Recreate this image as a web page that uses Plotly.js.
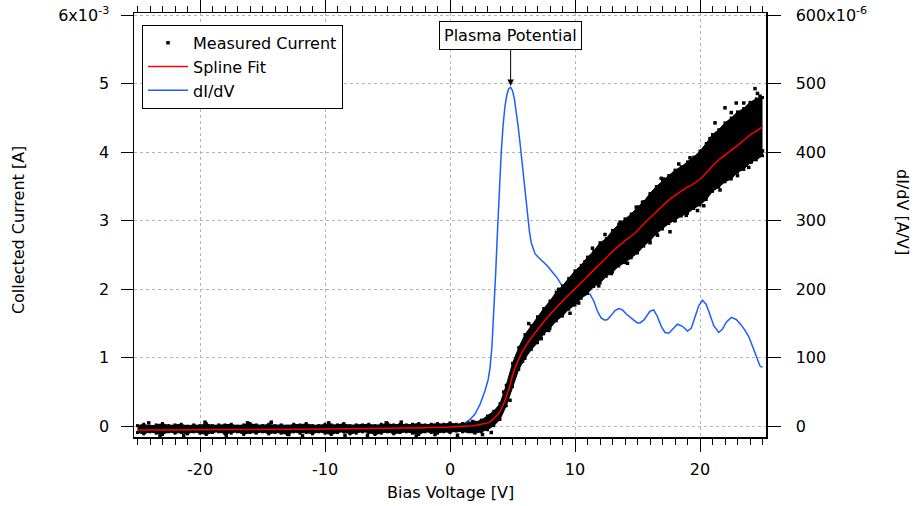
<!DOCTYPE html>
<html>
<head>
<meta charset="utf-8">
<script src="https://cdn.plot.ly/plotly-3.0.1.min.js"></script>
<style>html,body{margin:0;padding:0;background:#fff;}#chart{width:914px;height:506px;}</style>
</head>
<body>
<div id="chart"></div>
<script>
// ---- Measured current band (mA): upper and lower edges of the dense point cloud ----
const measX = [-25,-24.5,-24,-23.5,-23,-22.5,-22,-21.5,-21,-20.5,-20,-19.5,-19,-18.5,-18,-17.5,-17,-16.5,-16,-15.5,-15,-14.5,-14,-13.5,-13,-12.5,-12,-11.5,-11,-10.5,-10,-9.5,-9,-8.5,-8,-7.5,-7,-6.5,-6,-5.5,-5,-4.5,-4,-3.5,-3,-2.5,-2,-1.5,-1,-0.5,0,0.5,1,1.5,
  2,2.5,3,3.5,4,4.5,5,5.5,6,6.5,7,7.5,8,8.5,9,9.5,10,10.5,11,11.5,12,12.5,13,13.5,14,14.5,15,15.5,16,16.5,17,17.5,18,18.5,19,19.5,20,20.5,21,21.5,22,22.5,23,23.5,24,24.5,25];
const measHi = [0.01,0.03,0.0,0.02,0.04,0.01,0.02,0.03,0.0,0.02,0.01,0.04,0.01,0.02,0.02,0.03,0.0,0.02,0.04,0.02,0.01,0.03,0.01,0.02,0.0,0.03,0.02,0.04,0.01,0.01,0.03,0.02,0.02,0.04,0.01,0.02,0.02,0.03,0.01,0.03,0.04,0.02,0.03,0.02,0.03,0.04,0.02,0.03,0.04,0.03,0.05,0.03,0.04,0.05,
  0.06,0.09,0.15,0.22,0.33,0.6,0.92,1.15,1.34,1.47,1.6,1.72,1.83,1.96,2.05,2.16,2.27,2.35,2.47,2.56,2.68,2.74,2.86,2.95,3.03,3.1,3.2,3.28,3.4,3.5,3.58,3.66,3.74,3.79,3.86,3.93,4.02,4.13,4.26,4.33,4.43,4.5,4.59,4.64,4.73,4.78,4.8];
const measLo = [-0.09,-0.11,-0.08,-0.1,-0.12,-0.08,-0.1,-0.09,-0.11,-0.08,-0.1,-0.12,-0.09,-0.08,-0.11,-0.1,-0.08,-0.12,-0.09,-0.1,-0.08,-0.11,-0.09,-0.1,-0.12,-0.08,-0.1,-0.09,-0.11,-0.08,-0.1,-0.12,-0.09,-0.08,-0.11,-0.1,-0.08,-0.09,-0.12,-0.1,-0.08,-0.11,-0.09,-0.08,-0.1,-0.12,-0.08,-0.09,-0.1,-0.08,-0.09,-0.07,-0.08,-0.08,
  -0.1,-0.08,-0.05,0.01,0.1,0.3,0.58,0.83,0.99,1.12,1.22,1.35,1.43,1.54,1.61,1.71,1.77,1.87,1.94,2.04,2.09,2.19,2.25,2.34,2.39,2.46,2.53,2.63,2.71,2.81,2.88,2.96,3.01,3.07,3.11,3.18,3.23,3.31,3.43,3.49,3.57,3.61,3.71,3.75,3.85,3.89,3.95];
// sparse measured points lying outside / on the edge of the dense band (mA)
const outX = [-24.1,-23.2,-21.3,-19.6,-17.9,-16.2,-14.3,-12.9,-11.8,-9.7,-8.4,-6.6,-5.1,-3.9,-2.7,-1.2,0.6,1.8,2.6,3.3,4.3,4.8,5.8,6.3,7.3,7.9,8.7,9.6,10.3,10.8,11.4,11.9,12.4,12.9,13.6,14.2,14.9,15.4,16.0,16.6,16.9,17.1,17.6,18.0,18.3,18.9,19.2,19.8,20.3,20.8,21.2,21.6,22.0,22.5,22.9,23.0,23.5,23.9,24.1,24.4,24.6,24.8,24.9,25.0];
const outY = [0.05,-0.14,-0.13,0.06,-0.13,0.05,0.06,-0.12,-0.14,0.05,-0.13,-0.13,0.05,0.06,-0.14,-0.12,-0.13,0.07,-0.12,-0.09,0.5,0.38,0.95,1.5,1.28,1.4,2.0,1.65,1.8,2.4,2.6,2.05,2.8,2.23,2.98,2.38,3.2,3.27,2.68,2.79,3.62,3.61,2.84,3.0,3.83,3.08,3.92,3.15,3.22,4.2,4.43,3.45,4.65,4.58,4.72,3.66,4.72,3.78,3.86,4.93,4.86,4.82,3.98,4.02];

// ---- Spline fit (mA) ----
const splX = [-25,-20,-15,-10,-5,-2,0,1,2,2.5,3,3.3,3.6,3.9,4.2,4.5,4.8,5.05,5.3,5.6,5.9,6.2,6.5,7.0,7.7,8.5,9.0,10,11,11.7,12.5,13,14,14.66,15.7,16.5,17.3,18,18.7,19.4,20,20.6,21.2,22,22.5,23.2,24,24.5,25];
const splY = [-0.055,-0.05,-0.045,-0.04,-0.03,-0.02,-0.01,0.0,0.01,0.03,0.05,0.08,0.13,0.19,0.29,0.43,0.6,0.77,0.9,1.02,1.13,1.21,1.29,1.41,1.57,1.73,1.83,2.01,2.19,2.32,2.46,2.55,2.71,2.8,2.99,3.13,3.27,3.37,3.46,3.53,3.61,3.72,3.84,3.96,4.03,4.13,4.25,4.31,4.37];

// ---- dI/dV (x1e-6 A/V) ----
const dX = [-25,-20,-15,-10,-5,0,0.8,1.2,1.6,2.0,2.4,2.8,3.05,3.2,3.35,3.5,3.65,3.8,3.95,4.1,4.25,4.4,4.55,4.7,4.85,5.0,5.15,5.3,5.45,5.6,5.75,5.9,6.05,6.2,6.35,6.5,6.65,6.8,7.0,7.4,7.8,8.2,8.6,9.0,9.4,9.8,10.1,10.4,10.7,11.0,11.2,11.5,11.8,12.1,12.4,12.6,12.9,13.2,13.5,13.8,14.1,14.4,14.7,15.0,15.2,15.5,15.8,16.0,16.3,16.6,16.9,17.2,17.5,17.8,18.2,18.6,19.0,19.3,19.6,19.9,20.2,20.5,20.8,21.1,21.5,21.8,22.1,22.5,22.9,23.3,23.6,23.9,24.2,24.5,24.8,25.0];
const dY = [1,1,1,1,1,2,3,5,10,18,32,52,68,85,115,160,222,285,345,400,440,468,484,493,495,490,478,460,438,414,388,362,335,308,285,268,258,252,248,241,234,225,216,204,196,190,186,187,190,193,193,183,168,158,155,156,162,169,172,170,164,159,155,151,151,155,163,168,170,160,146,137,136,142,149,146,139,143,158,176,184,178,163,147,137,142,152,159,156,148,140,131,117,101,88,86];

// tick labels
const xTicks = [-20,-10,0,10,20];
const curTickVals = [0,1,2,3,4,5,6];
const curTickText = ['0','1','2','3','4','5','6x10<sup>-3</sup>'];
const didvTickVals = [0,100,200,300,400,500,600];
const didvTickText = ['0','100','200','300','400','500','600x10<sup>-6</sup>'];

const mA = v => v.map(a => a * 1e-3);
const uA = v => v.map(a => a * 1e-6);

const traces = [
  {x: dX, y: uA(dY), type: 'scatter', mode: 'lines', name: 'dI/dV', xaxis: 'x', yaxis: 'y',
   line: {color: '#1f5cff', width: 1.5}, legendrank: 3},
  {x: measX, y: mA(measLo), type: 'scatter', mode: 'lines+markers', yaxis: 'y2', showlegend: false,
   line: {color: '#000', width: 1}, marker: {symbol: 'square', size: 3, color: '#000'}, hoverinfo: 'skip'},
  {x: measX, y: mA(measHi), type: 'scatter', mode: 'lines+markers', yaxis: 'y2', showlegend: false,
   fill: 'tonexty', fillcolor: '#000',
   line: {color: '#000', width: 1}, marker: {symbol: 'square', size: 3, color: '#000'}, hoverinfo: 'skip'},
  {x: outX, y: mA(outY), type: 'scatter', mode: 'markers', name: 'Measured Current', yaxis: 'y2',
   marker: {symbol: 'square', size: 3.5, color: '#000'}, legendrank: 1},
  {x: splX, y: mA(splY), type: 'scatter', mode: 'lines', name: 'Spline Fit', yaxis: 'y2',
   line: {color: '#ff0000', width: 1.5, shape: 'spline'}, legendrank: 2}
];

const font = {family: 'DejaVu Sans, sans-serif', size: 16, color: '#000'};

const layout = {
  width: 914, height: 506,
  margin: {l: 134, r: 148, t: 13, b: 69},
  paper_bgcolor: '#fff', plot_bgcolor: '#fff',
  font: font,
  showlegend: true,
  legend: {x: 0.0127, y: 0.972, xanchor: 'left', yanchor: 'top', bgcolor: '#fff',
           bordercolor: '#000', borderwidth: 1, font: font, traceorder: 'normal', itemwidth: 40},
  xaxis: {
    range: [-25.28, 25.28], tickmode: 'array', tickvals: xTicks, ticktext: xTicks.map(String),
    ticks: 'outside', ticklen: 13, tickwidth: 1, tickcolor: '#000',
    minor: {dtick: 1, tick0: 0, ticks: 'outside', ticklen: 6, tickwidth: 1, tickcolor: '#000', showgrid: false},
    showline: true, linecolor: '#000', linewidth: 1.5, mirror: 'ticks',
    showgrid: true, gridcolor: '#b4b4b4', griddash: 'dot', gridwidth: 1,
    zeroline: false, ticklabelstandoff: 4, fixedrange: true
  },
  yaxis: {
    range: [-15.6e-6, 603.4e-6], side: 'right', tickmode: 'array',
    tickvals: uA(didvTickVals), ticktext: didvTickText,
    ticks: 'outside', ticklen: 13, tickwidth: 1, tickcolor: '#000',
    showline: true, linecolor: '#000', linewidth: 1.5,
    showgrid: true, gridcolor: '#b4b4b4', griddash: 'dot', gridwidth: 1,
    zeroline: false, ticklabelstandoff: 12, fixedrange: true
  },
  yaxis2: {
    range: [-0.156e-3, 6.034e-3], side: 'left', overlaying: 'y', tickmode: 'array',
    tickvals: mA(curTickVals), ticktext: curTickText,
    ticks: 'outside', ticklen: 12, tickwidth: 1, tickcolor: '#000',
    showline: true, linecolor: '#000', linewidth: 1.5,
    showgrid: false, zeroline: false, ticklabelstandoff: 8, fixedrange: true
  },
  annotations: [
    {text: 'Plasma Potential', xref: 'x', yref: 'y', x: 4.85, y: 497e-6, ax: 0, ay: -50,
     showarrow: true, arrowhead: 2, arrowsize: 1.3, arrowwidth: 1, arrowcolor: '#000', standoff: 0,
     bordercolor: '#000', borderwidth: 1, borderpad: 4, bgcolor: '#fff', font: font},
    {text: 'Bias Voltage [V]', xref: 'paper', yref: 'paper', x: 0.5, y: -0.132,
     xanchor: 'center', yanchor: 'middle', showarrow: false, font: font},
    {text: 'Collected Current [A]', xref: 'paper', yref: 'paper', x: -0.1835, y: 0.488,
     xanchor: 'center', yanchor: 'middle', textangle: -90, showarrow: false, font: font},
    {text: 'dI/dV [A/V]', xref: 'paper', yref: 'paper', x: 1.215, y: 0.531,
     xanchor: 'center', yanchor: 'middle', textangle: 90, showarrow: false, font: font}
  ]
};

Plotly.newPlot('chart', traces, layout, {displayModeBar: false, staticPlot: true});
</script>
</body>
</html>
